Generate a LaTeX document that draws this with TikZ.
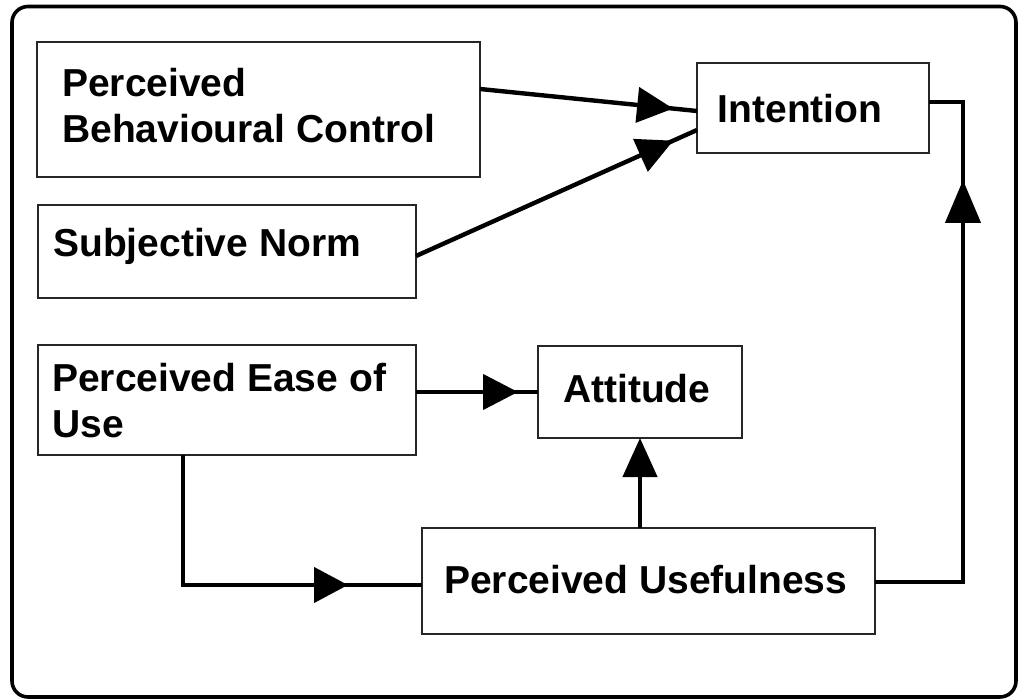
\documentclass[tikz,border=0pt]{standalone}
\usepackage{fontspec}
\setmainfont{Liberation Sans}
\usetikzlibrary{arrows.meta,decorations.markings,calc}

\begin{document}
\begin{tikzpicture}[x=1pt,y=-1pt,
  box/.style={draw=black!85,line width=1.6pt,inner sep=0pt,outer sep=0pt},
  txt/.style={font=\bfseries\fontsize{39}{46}\selectfont,anchor=base west,
    inner sep=0pt,align=left},
  conn/.style={line width=4.4pt,draw=black},
  midarrow/.style 2 args={decoration={markings,
      mark=at position #1 with {\arrow{Triangle[length=#2,width=35pt]}}},
    postaction={decorate}}]

\useasboundingbox (0,0) rectangle (1023,700);

% outer frame
\draw[line width=3.6pt,rounded corners=16pt] (12,6.5) rectangle (1016,697);

% boxes
\node[box,minimum width=443pt,minimum height=135pt] (pbc) at (258.5,109.5) {};
\node[box,minimum width=378pt,minimum height=93pt]  (sn)  at (227,251.5) {};
\node[box,minimum width=232pt,minimum height=90pt]  (int) at (813,108) {};
\node[box,minimum width=378pt,minimum height=110pt] (peu) at (227,400) {};
\node[box,minimum width=204pt,minimum height=92pt]  (att) at (640,392) {};
\node[box,minimum width=453pt,minimum height=106pt] (pu)  at (648.5,581) {};

% labels (multi-line labels sit on the baseline of their last line)
\node[txt] (pbcT) at (62,143) {Perceived\\Behavioural Control};
\node[txt] (snT)  at (53,257) {Subjective Norm};
\node[txt] (intT) at (717.5,123) {Intention};
\node[txt] (peuT) at (52,438) {Perceived Ease of\\Use};
\node[txt] (attT) at (563,403) {Attitude};
\node[txt] (puT)  at (444,593) {Perceived Usefulness};

% connectors
\draw[conn,midarrow={-24pt}{36pt}] ([yshift=20.5pt]pbc.east) -- ([yshift=-3pt]int.west);
\draw[conn,midarrow={-26pt}{36pt}] ([yshift=-4.5pt]sn.east) -- ([yshift=-22pt]int.west);
\draw[conn,midarrow={-20pt}{35pt}] ([yshift=8pt]peu.east) -- (att.west);
\draw[conn,midarrow={-74pt}{34pt}] ([xshift=-44pt]peu.south) |- ([yshift=-4pt]pu.west);
\draw[conn,-{Triangle[length=39pt,width=34pt]}] (att.south |- pu.north) -- (att.south);
\draw[conn,midarrow={-112pt}{43pt}] ([yshift=-1pt]pu.east) -- ++(88,0) |- ([yshift=6pt]int.east);

\end{tikzpicture}
\end{document}
